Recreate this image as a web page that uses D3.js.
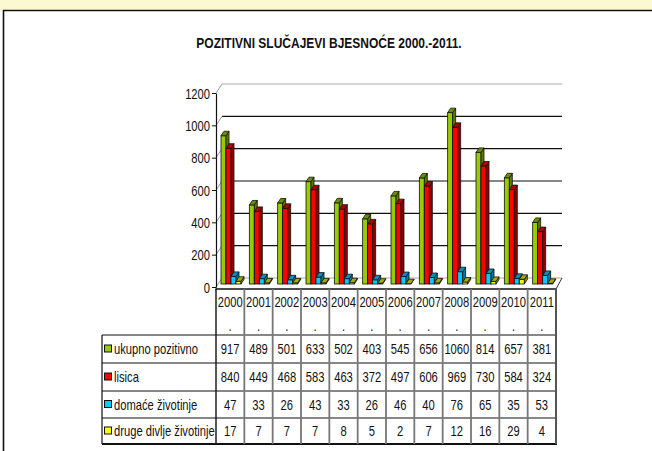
<!DOCTYPE html>
<html>
<head>
<meta charset="utf-8">
<script src="https://cdn.jsdelivr.net/npm/d3@7"></script>
<style>
  body { margin: 0; background: #fff; }
  svg text { font-family: "Liberation Sans", Arial, sans-serif; }
</style>
</head>
<body>
<svg id="chart" width="652" height="451"></svg>
<script>
const years = ['2000','2001','2002','2003','2004','2005','2006','2007','2008','2009','2010','2011']
const seriesNames = ['ukupno pozitivno', 'lisica', 'domaće životinje', 'druge divlje životinje']
const ukupno = [917, 489, 501, 633, 502, 403, 545, 656, 1060, 814, 657, 381]
const lisica = [840, 449, 468, 583, 463, 372, 497, 606, 969, 730, 584, 324]
const domace = [47, 33, 26, 43, 33, 26, 46, 40, 76, 65, 35, 53]
const druge = [17, 7, 7, 7, 8, 5, 2, 7, 12, 16, 29, 4]
const yTickValues = [0, 200, 400, 600, 800, 1000, 1200]

const series = [ukupno, lisica, domace, druge]
const fronts = ['#99cc00', '#ff0000', '#00ccff', '#ffff00']
const tops = ['#6b8f00', '#b00000', '#0090c0', '#a8a800']
const sides = ['#5c7a00', '#8c0000', '#0078a0', '#8c8c00']

const svg = d3.select('#chart')
const left = 216, right = 556
const wdx = 6, wdy = -9      // wall depth
const bdx = 2, bdy = -3      // bar front offset
const cdx = 3, cdy = -4.5    // bar cap depth
const squeeze = 0.8          // narrow font look

// text helper, squeezed horizontally
function label(x, y, txt, anchor, size, weight) {
  return svg.append('text')
    .attr('transform', `translate(${x},${y}) scale(${squeeze},1)`)
    .attr('text-anchor', anchor || 'start')
    .attr('font-size', size || '14px')
    .attr('font-weight', weight || 'normal')
    .attr('fill', '#111')
    .text(txt)
}

// page background band + frame
svg.append('rect').attr('x', 0).attr('y', 0).attr('width', 652).attr('height', 10).attr('fill', '#fbf8d2')
svg.append('path').attr('d', 'M3.5,451 V10.5 H652').attr('fill', 'none').attr('stroke', '#111').attr('stroke-width', 1.6)

label(329, 48, 'POZITIVNI SLUČAJEVI BJESNOĆE 2000.-2011.', 'middle', '15px', 'bold')

const y = d3.scaleLinear().domain([0, 1200]).range([287, 93])
const x = d3.scaleBand().domain(years).range([left, right])
const xs = d3.scaleBand().domain(d3.range(4)).range([0, 20])

// back wall gridlines
yTickValues.forEach(v => {
  const yy = y(v) + wdy
  svg.append('line')
    .attr('x1', left + wdx).attr('x2', right + wdx)
    .attr('y1', yy).attr('y2', yy)
    .attr('stroke', (v === 0 || v === 1200) ? '#aaa' : '#111')
    .attr('stroke-width', 1.2)
  svg.append('line')
    .attr('x1', left).attr('x2', left + wdx)
    .attr('y1', y(v)).attr('y2', yy)
    .attr('stroke', '#999').attr('stroke-width', 1)
})
// floor right edge
svg.append('line')
  .attr('x1', right + wdx).attr('y1', y(0) + wdy)
  .attr('x2', right).attr('y2', y(0) + 2)
  .attr('stroke', '#333').attr('stroke-width', 1)

// bars
years.forEach((yr, i) => {
  series.forEach((vals, s) => {
    const x0 = x(yr) + 3 + xs(s) + bdx
    const w = xs.bandwidth()
    const yb = y(0) + bdy
    const yt = y(vals[i]) + bdy
    const g = svg.append('g')
    g.append('rect')
      .attr('x', x0).attr('y', yt)
      .attr('width', w).attr('height', yb - yt)
      .attr('fill', fronts[s]).attr('stroke', '#111').attr('stroke-width', 0.8)
    g.append('path')
      .attr('d', `M${x0 + w},${yt} L${x0 + w + cdx},${yt + cdy} L${x0 + w + cdx},${yb + cdy} L${x0 + w},${yb} Z`)
      .attr('fill', sides[s]).attr('stroke', '#111').attr('stroke-width', 0.8)
    g.append('path')
      .attr('d', `M${x0},${yt} L${x0 + cdx},${yt + cdy} L${x0 + w + cdx},${yt + cdy} L${x0 + w},${yt} Z`)
      .attr('fill', tops[s]).attr('stroke', '#111').attr('stroke-width', 0.8)
  })
})

// y axis
const yAxis = d3.axisLeft(y).tickValues(yTickValues).tickFormat(d3.format('d')).tickSize(4).tickSizeOuter(0)
const ax = svg.append('g').attr('transform', `translate(${left},0)`).call(yAxis)
ax.select('.domain').attr('stroke', '#111').attr('stroke-width', 1.2)
ax.selectAll('.tick line').attr('stroke', '#111')
ax.selectAll('.tick text')
  .attr('font-size', '14px').attr('fill', '#111')
  .attr('x', 0).attr('dy', null).attr('y', 5)
  .attr('transform', `translate(-6,0) scale(${squeeze},1)`)
  .style('font-family', '"Liberation Sans", Arial, sans-serif')
svg.append('line').attr('x1', left).attr('x2', left).attr('y1', 287).attr('y2', 290).attr('stroke', '#111')

// data table
const rowTop = [335, 363, 391, 418]
const rowBot = 444
const tableLeft = 102
const headTop = 289

svg.append('line').attr('x1', left).attr('x2', right).attr('y1', headTop).attr('y2', headTop).attr('stroke', '#111').attr('stroke-width', 1.4)
rowTop.forEach(t => {
  svg.append('line').attr('x1', tableLeft).attr('x2', right).attr('y1', t).attr('y2', t).attr('stroke', '#111').attr('stroke-width', 1.2)
})
svg.append('line').attr('x1', tableLeft).attr('x2', right + 1).attr('y1', rowBot).attr('y2', rowBot).attr('stroke', '#111').attr('stroke-width', 2)
svg.append('line').attr('x1', tableLeft).attr('x2', tableLeft).attr('y1', rowTop[0]).attr('y2', rowBot).attr('stroke', '#111').attr('stroke-width', 1.2)
years.forEach(yr => {
  svg.append('line').attr('x1', x(yr)).attr('x2', x(yr)).attr('y1', headTop).attr('y2', rowBot)
    .attr('stroke', yr === years[0] ? '#111' : '#777').attr('stroke-width', yr === years[0] ? 1.4 : 1.8)
})
svg.append('line').attr('x1', right).attr('x2', right).attr('y1', headTop).attr('y2', rowBot)
  .attr('stroke', '#555').attr('stroke-width', 2)

// header
years.forEach(yr => {
  const cx = x(yr) + x.bandwidth() / 2
  label(cx, 307, yr, 'middle')
  label(cx, 331, '.', 'middle')
})

// rows
seriesNames.forEach((name, s) => {
  const top = rowTop[s]
  const bot = s < 3 ? rowTop[s + 1] : rowBot
  const cy = (top + bot) / 2
  svg.append('rect').attr('x', 104.5).attr('y', cy - 4).attr('width', 7).attr('height', 7)
    .attr('fill', fronts[s]).attr('stroke', '#111').attr('stroke-width', 1)
  label(114, cy + 5, name, 'start')
  years.forEach((yr, i) => {
    label(x(yr) + x.bandwidth() / 2, cy + 5, series[s][i], 'middle')
  })
})
</script>
</body>
</html>
